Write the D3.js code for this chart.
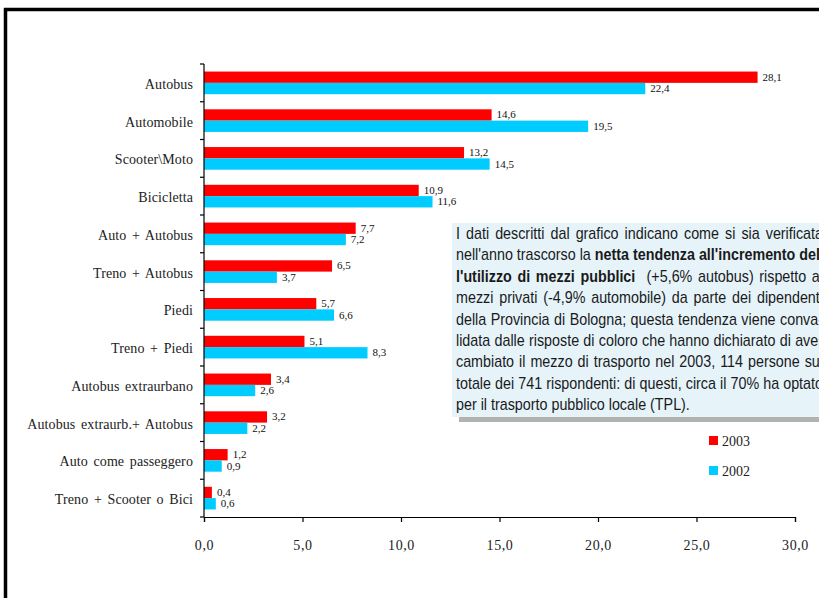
<!DOCTYPE html>
<html><head><meta charset="utf-8">
<script src="https://cdn.jsdelivr.net/npm/d3@7"></script>
<style>html,body{margin:0;padding:0;background:#fff;overflow:hidden}</style>
</head><body>
<svg id="chart" width="819" height="598"></svg>
<script>
const categories = ["Autobus","Automobile","Scooter\\Moto","Bicicletta","Auto + Autobus","Treno + Autobus","Piedi","Treno + Piedi","Autobus extraurbano","Autobus extraurb.+ Autobus","Auto come passeggero","Treno + Scooter o Bici"];
const values2003 = [28.1,14.6,13.2,10.9,7.7,6.5,5.7,5.1,3.4,3.2,1.2,0.4];
const values2002 = [22.4,19.5,14.5,11.6,7.2,3.7,6.6,8.3,2.6,2.2,0.9,0.6];
const seriesNames = ["2003","2002"];
const seriesColors = ["#ff0000","#00ccff"];
const xTicks = [0,5,10,15,20,25,30];
const noteLines = [
  [{t:"I dati descritti dal grafico indicano come si sia verificata",b:false}],
  [{t:"nell'anno trascorso la ",b:false},{t:"netta tendenza all'incremento del-",b:true}],
  [{t:"l'utilizzo di mezzi pubblici",b:true},{t:"  (+5,6% autobus) rispetto ai",b:false}],
  [{t:"mezzi privati (-4,9% automobile) da parte dei dipendenti",b:false}],
  [{t:"della Provincia di Bologna; questa tendenza viene conva-",b:false}],
  [{t:"lidata dalle risposte di coloro che hanno dichiarato di aver",b:false}],
  [{t:"cambiato il mezzo di trasporto nel 2003, 114 persone sul",b:false}],
  [{t:"totale dei 741 rispondenti: di questi, circa il 70% ha optato",b:false}],
  [{t:"per il trasporto pubblico locale (TPL).",b:false}]
];

const svg = d3.select("#chart");
const fmt = v => d3.format(".1f")(v).replace(".", ",");

// frame
svg.append("line").attr("x1",4).attr("x2",819).attr("y1",9.5).attr("y2",9.5).attr("stroke","#000").attr("stroke-width",3.5);
svg.append("line").attr("x1",5.5).attr("x2",5.5).attr("y1",8).attr("y2",598).attr("stroke","#000").attr("stroke-width",3.5);

const x = d3.scaleLinear().domain([0,30]).range([204,795]);
const y = d3.scaleBand().domain(categories).range([64,517]).padding(0);
const ySub = d3.scaleBand().domain(seriesNames).range([y.bandwidth()*0.2, y.bandwidth()*0.8]).padding(0);

const data = categories.map((c,i)=>({cat:c, vals:[values2003[i], values2002[i]]}));

// bars
const g = svg.append("g");
data.forEach(d=>{
  seriesNames.forEach((s,j)=>{
    const v = d.vals[j];
    const yy = y(d.cat) + ySub(s);
    g.append("rect").attr("x",x(0)).attr("y",yy).attr("width",x(v)-x(0)).attr("height",ySub.bandwidth()).attr("fill",seriesColors[j]);
    g.append("text").attr("x",x(v)+5).attr("y",yy+ySub.bandwidth()/2+3.5)
      .attr("font-family","'Liberation Serif','Times New Roman',serif").attr("font-size",11)
      .attr("fill","#111").text(fmt(v));
  });
});

// y axis line & ticks at band boundaries
svg.append("line").attr("x1",x(0)).attr("x2",x(0)).attr("y1",64).attr("y2",517).attr("stroke","#000").attr("stroke-width",1.2);
const bounds = categories.map(c=>y(c)).concat([y.range()[1]]);
svg.selectAll(".ytick").data(bounds).enter().append("line")
  .attr("x1",x(0)-4).attr("x2",x(0)).attr("y1",d=>d).attr("y2",d=>d).attr("stroke","#000").attr("stroke-width",1.2);
svg.selectAll(".ylab").data(categories).enter().append("text")
  .attr("x",193).attr("y",d=>y(d)+y.bandwidth()/2+6)
  .attr("text-anchor","end").attr("font-family","'Liberation Serif','Times New Roman',serif").attr("font-size",14)
  .attr("word-spacing",2).attr("letter-spacing",0.1)
  .attr("fill","#222").text(d=>d);

// x axis
const xAxis = d3.axisBottom(x).tickValues(xTicks).tickSize(5).tickPadding(18).tickFormat(fmt);
const xg = svg.append("g").attr("transform","translate(0,517)").call(xAxis);
xg.select(".domain").attr("stroke","#000").attr("stroke-width",1.2);
xg.selectAll(".tick line").attr("stroke","#000").attr("stroke-width",1.2);
xg.selectAll(".tick text").attr("font-family","'Liberation Serif','Times New Roman',serif").attr("font-size",14)
  .attr("letter-spacing",0.6).attr("fill","#222");

// note box
svg.append("rect").attr("x",459).attr("y",230).attr("width",400).attr("height",192).attr("fill","#b2b2b2");
svg.append("rect").attr("x",452).attr("y",223).attr("width",400).attr("height",194).attr("fill","#e6f4fa");
const sx = 0.895, left = 456, rightEdge = 823;
const note = svg.append("g").attr("transform",`translate(${left},0) scale(${sx},1)`);
noteLines.forEach((line,i)=>{
  const t = note.append("text").attr("x",0).attr("y",239+i*21.4)
    .attr("font-family","'Liberation Sans',Arial,sans-serif").attr("font-size",16).attr("fill","#1a1a1a")
    .attr("xml:space","preserve").style("white-space","pre");
  line.forEach(seg=>{
    t.append("tspan").attr("font-weight",seg.b?"bold":"normal").text(seg.t);
  });
  if (i < noteLines.length-1) {
    const target = (rightEdge-left)/sx;
    const len = t.node().getComputedTextLength();
    const nSpaces = line.map(s=>s.t).join("").split(" ").length-1;
    if (nSpaces>0 && target>len) t.attr("word-spacing",(target-len)/nSpaces);
  }
});

// legend
const leg = svg.append("g");
seriesNames.forEach((s,i)=>{
  leg.append("rect").attr("x",709).attr("y",436+i*30).attr("width",9).attr("height",9).attr("fill",seriesColors[i]);
  leg.append("text").attr("x",722).attr("y",445.5+i*30).attr("font-family","'Liberation Serif','Times New Roman',serif")
    .attr("font-size",14).attr("fill","#222").text(s);
});
</script>
</body></html>
